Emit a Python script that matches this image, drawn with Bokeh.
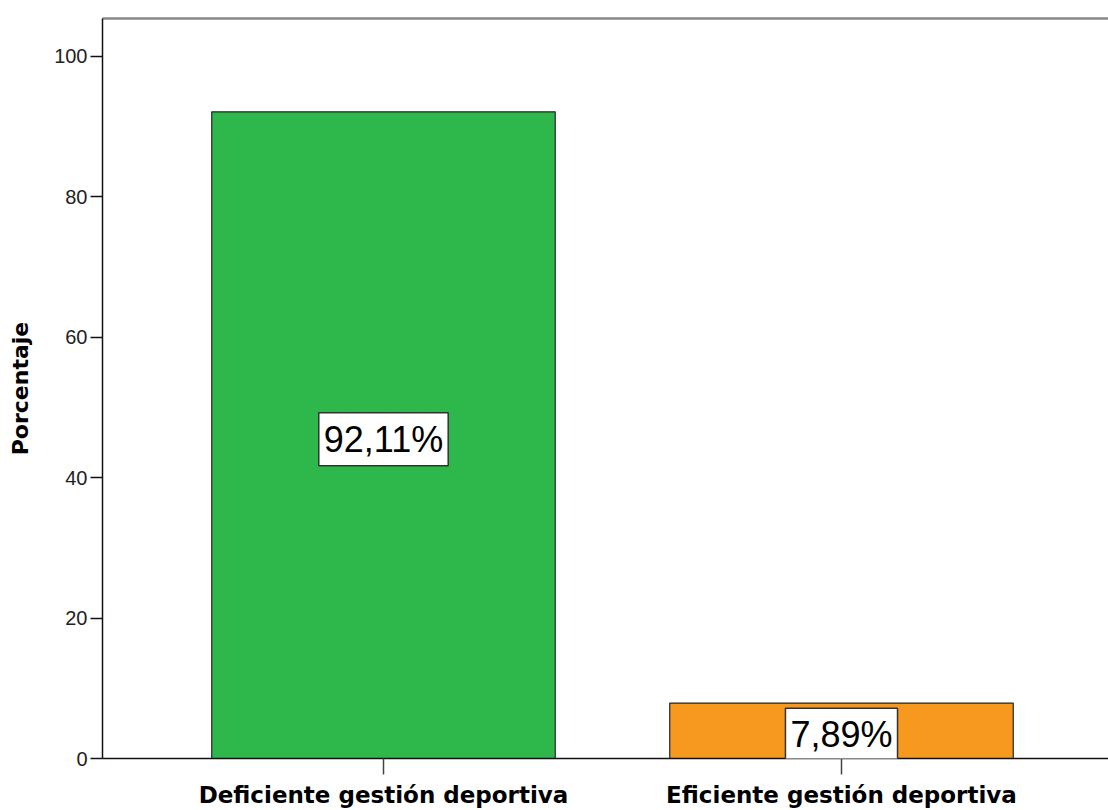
from bokeh.plotting import figure
from bokeh.models import Range1d, FixedTicker, LinearAxis, Label
from bokeh.embed import file_html
from bokeh.resources import INLINE

# Data
categories = ["Deficiente gestión deportiva", "Eficiente gestión deportiva"]
percentages = [92.11, 7.89]
bar_colors = ["#2EB84B", "#F7991F"]
y_ticks = [0, 20, 40, 60, 80, 100]

positions = list(range(len(categories)))

p = figure(
    width=1108, height=810,
    x_range=Range1d(-0.6135, 1.583),
    y_range=Range1d(0, 105.4),
    output_backend="svg", toolbar_location=None,
    min_border_left=102, min_border_right=0,
    min_border_top=18, min_border_bottom=52,
)
p.outline_line_color = None
p.xgrid.visible = False
p.ygrid.visible = False
p.background_fill_color = "white"
p.border_fill_color = "white"

p.vbar(x=positions, top=percentages, width=0.75, fill_color=bar_colors,
       line_color="#262626", line_width=1.2)

# Value labels centred on each bar
for xi, v in zip(positions, percentages):
    txt = f"{v:.2f}%".replace(".", ",")
    p.add_layout(Label(
        x=xi, y=v / 2, y_offset=-4, text=txt,
        text_font="Liberation Sans", text_font_size="36px", text_color="#000000",
        text_align="center", text_baseline="middle",
        background_fill_color="white", border_line_color="#333333", border_line_width=1.5,
        padding=dict(top=6, right=5, bottom=6, left=5),
    ))

# Y axis
ya = p.yaxis[0]
ya.ticker = FixedTicker(ticks=y_ticks)
ya.axis_label = "Porcentaje"
ya.axis_label_text_font = "DejaVu Sans"
ya.axis_label_text_font_style = "bold"
ya.axis_label_text_font_size = "22px"
ya.axis_label_text_color = "#000000"
ya.axis_label_standoff = 18
ya.major_label_text_font = "Liberation Sans"
ya.major_label_text_font_size = "20px"
ya.major_label_text_color = "#222222"
ya.major_label_standoff = 3
ya.major_tick_out = 12
ya.major_tick_in = 0
ya.major_tick_line_color = "#111111"
ya.major_tick_line_width = 1.5
ya.minor_tick_line_color = None
ya.axis_line_color = "#111111"
ya.axis_line_width = 1.5

# X axis
xa = p.xaxis[0]
xa.ticker = FixedTicker(ticks=positions)
xa.major_label_overrides = {i: c for i, c in zip(positions, categories)}
xa.major_label_text_font = "DejaVu Sans"
xa.major_label_text_font_style = "bold"
xa.major_label_text_font_size = "23px"
xa.major_label_text_color = "#000000"
xa.major_label_standoff = 7
xa.major_tick_out = 16
xa.major_tick_in = 0
xa.major_tick_line_color = "#444444"
xa.major_tick_line_width = 1.5
xa.minor_tick_line_color = None
xa.axis_line_color = "#111111"
xa.axis_line_width = 1.5

# Top border line
top = LinearAxis(ticker=FixedTicker(ticks=[]), axis_line_color="#888888",
                 axis_line_width=2.5, major_tick_line_color=None,
                 minor_tick_line_color=None, major_label_text_font_size="0px")
p.add_layout(top, "above")

open("out.html", "w").write(file_html(p, INLINE))
